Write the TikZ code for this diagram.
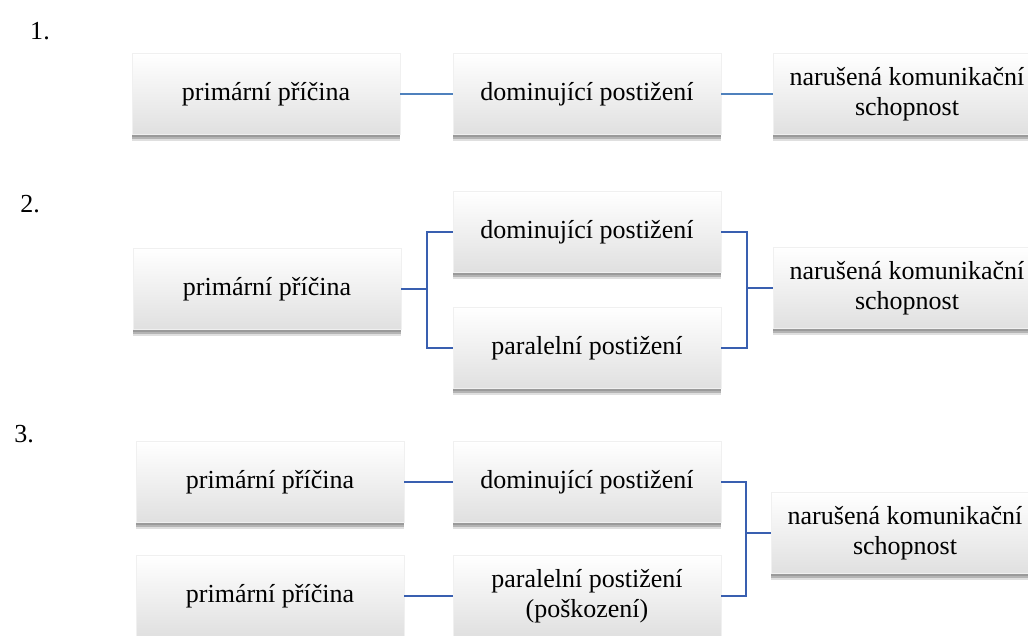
\documentclass[tikz,border=0pt]{standalone}
\usepackage{fontspec}
\setmainfont{Liberation Serif}
\usetikzlibrary{shadows, calc}
\definecolor{lnblue}{RGB}{79,129,189}
\definecolor{lndark}{RGB}{57,95,176}
\definecolor{boxlow}{RGB}{224,224,224}
\tikzset{
  box/.style={rectangle, top color=white, middle color=white, bottom color=boxlow,
    draw=black!6, line width=0.4pt, minimum width=268pt, minimum height=81pt,
    inner sep=0pt, align=center, font=\rmfamily\fontsize{26}{30}\selectfont,
    drop shadow={shadow xshift=0pt, shadow yshift=-6pt, opacity=0.25},
    drop shadow={shadow xshift=0pt, shadow yshift=-4pt, opacity=0.45},
    drop shadow={shadow xshift=0pt, shadow yshift=-2pt, opacity=0.5}},
  conn/.style={line width=2.5pt, color=lndark},
  lightconn/.style={line width=2.5pt, color=lnblue},
  numlabel/.style={font=\rmfamily\fontsize{26}{30}\selectfont}
}
\begin{document}
\begin{tikzpicture}[x=1pt, y=-1pt]
  \useasboundingbox (0,0) rectangle (1028,635);
  % 1.
  \node[numlabel] (n1) at (40,31) {1.};
  \node[box] (p1) at (266,94) {primární příčina};
  \node[box] (d1) at (587,94) {dominující postižení};
  \node[box] (k1) at (907,94) {narušená komunikační\\schopnost};
  \draw[lightconn] (p1.east) -- (d1.west);
  \draw[lightconn] (d1.east) -- (k1.west);
  % 2.
  \node[numlabel] (n2) at (30,204) {2.};
  \node[box] (p2) at (267,289) {primární příčina};
  \node[box] (d2) at (587,232) {dominující postižení};
  \node[box] (a2) at (587,348) {paralelní postižení};
  \node[box] (k2) at (907,288) {narušená komunikační\\schopnost};
  \coordinate (j2) at ($(p2.east)+(26,0)$);
  \draw[conn] (p2.east) -- (j2) |- (d2.west);
  \draw[conn] (j2) |- (a2.west);
  \coordinate (m2) at ($(k2.west)+(-26,0)$);
  \draw[conn] (d2.east) -| (m2) |- (a2.east);
  \draw[conn] (m2) -- (k2.west);
  % 3.
  \node[numlabel] (n3) at (24,434) {3.};
  \node[box] (p3) at (270,482) {primární příčina};
  \node[box] (q3) at (270,596) {primární příčina};
  \node[box] (d3) at (587,482) {dominující postižení};
  \node[box] (a3) at (587,596) {paralelní postižení\\(poškození)};
  \node[box] (k3) at (905,533) {narušená komunikační\\schopnost};
  \draw[conn] (p3.east) -- (d3.west);
  \draw[conn] (q3.east) -- (a3.west);
  \coordinate (m3) at ($(k3.west)+(-25,0)$);
  \draw[conn] (d3.east) -| (m3) |- (a3.east);
  \draw[conn] (m3) -- (k3.west);
\end{tikzpicture}
\end{document}
